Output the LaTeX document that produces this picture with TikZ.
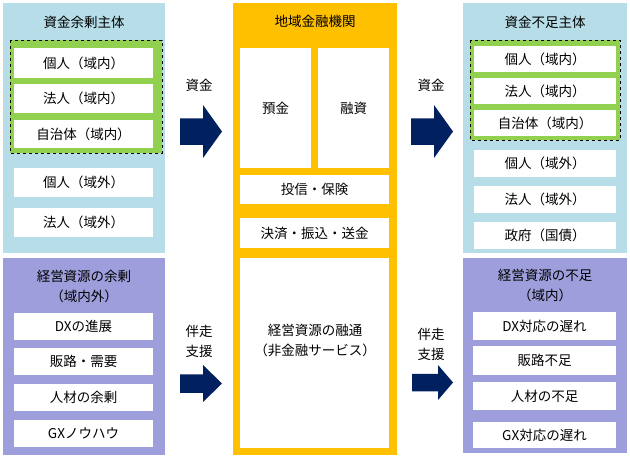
\documentclass[tikz,border=0pt]{standalone}
\usepackage{fontspec}
\setmainfont{Noto Sans CJK JP}
\definecolor{lb}{HTML}{B7DEE8}
\definecolor{pu}{HTML}{9E9EDC}
\definecolor{og}{HTML}{FFC000}
\definecolor{gr}{HTML}{92D050}
\definecolor{nv}{HTML}{002060}
\begin{document}
\begin{tikzpicture}[x=1pt,y=-1pt,
  wb/.style={fill=white,draw=none,inner sep=0pt,font=\fontsize{13.5}{16}\selectfont},
  lbl/.style={inner sep=0pt,font=\fontsize{13.5}{20}\selectfont,align=center},
  arr/.style={fill=nv,draw=none}]
\useasboundingbox (0,0) rectangle (630,458);
\fill[white] (0,0) rectangle (630,458);
\newcommand{\wbox}[6]{\node[wb,minimum width=#3-#1,minimum height=#4-#2] (#5) at ({(#1+#3)/2},{(#2+#4)/2}) {#6};}
\newcommand{\arrw}[5]{\fill[arr] (#1,{#2+0.25*(#3-#2)}) -- (#4,{#2+0.25*(#3-#2)}) -- (#4,#2) -- (#5,{(#2+#3)/2}) -- (#4,#3) -- (#4,{#3-0.25*(#3-#2)}) -- (#1,{#3-0.25*(#3-#2)}) -- cycle;}
% left top
\fill[lb] (3,3) rectangle (165,253);
\node[lbl] (lt) at (84,22) {資金余剰主体};
\fill[gr] (10,40) rectangle (162,153);
\draw[dashed,black,thin] (10,40) rectangle (162,153);
\wbox{14}{48}{153}{78}{l1}{個人（域内）}
\wbox{14}{84}{153}{113}{l2}{法人（域内）}
\wbox{14}{120}{153}{148}{l3}{自治体（域内）}
\wbox{14}{168}{153}{197}{l4}{個人（域外）}
\wbox{14}{208}{153}{237}{l5}{法人（域外）}
% left bottom
\fill[pu] (3,258) rectangle (165,455);
\node[lbl] (lb) at (84,286) {経営資源の余剰\\（域内外）};
\wbox{14}{313}{153}{340}{m1}{DXの進展}
\wbox{14}{348}{153}{375}{m2}{販路・需要}
\wbox{14}{384}{153}{411}{m3}{人材の余剰}
\wbox{14}{420}{153}{447}{m4}{GXノウハウ}
% middle
\fill[og] (233,3) rectangle (397,455);
\node[lbl] (mt) at (315,21) {地域金融機関};
\wbox{240}{48}{311}{168}{c1}{預金}
\wbox{318}{48}{389}{168}{c2}{融資}
\wbox{240}{175}{389}{204}{c3}{投信・保険}
\wbox{240}{218}{389}{248}{c4}{決済・振込・送金}
\wbox{240}{258}{389}{448}{c5}{}
\node[lbl] (c5t) at (315,340) {経営資源の融通\\（非金融サービス）};
% right top
\fill[lb] (463,3) rectangle (627,253);
\node[lbl] (rt) at (545,22) {資金不足主体};
\fill[gr] (470,40) rectangle (620,140);
\draw[dashed,black,thin] (470,40) rectangle (620,140);
\wbox{474}{46}{616}{72}{r1}{個人（域内）}
\wbox{474}{78}{616}{104}{r2}{法人（域内）}
\wbox{474}{110}{616}{136}{r3}{自治体（域内）}
\wbox{474}{150}{616}{177}{r4}{個人（域外）}
\wbox{474}{186}{616}{213}{r5}{法人（域外）}
\wbox{474}{222}{616}{249}{r6}{政府（国債）}
% right bottom
\fill[pu] (463,258) rectangle (627,453);
\node[lbl] (rb) at (545,285) {経営資源の不足\\（域内）};
\wbox{473}{312}{616}{340}{s1}{DX対応の遅れ}
\wbox{473}{346}{616}{375}{s2}{販路不足}
\wbox{473}{382}{616}{410}{s3}{人材の不足}
\wbox{473}{422}{616}{448}{s4}{GX対応の遅れ}
% arrows
\node[lbl] (a1t) at (199,85) {資金};
\arrw{180}{105}{158}{203}{222}
\node[lbl] (a2t) at (199,341) {伴走\\支援};
\arrw{180}{365}{402}{203}{222}
\node[lbl] (a3t) at (431,85) {資金};
\arrw{411}{105}{158}{434}{453}
\node[lbl] (a4t) at (431,344) {伴走\\支援};
\arrw{412}{365}{400}{438}{453}
\end{tikzpicture}
\end{document}
